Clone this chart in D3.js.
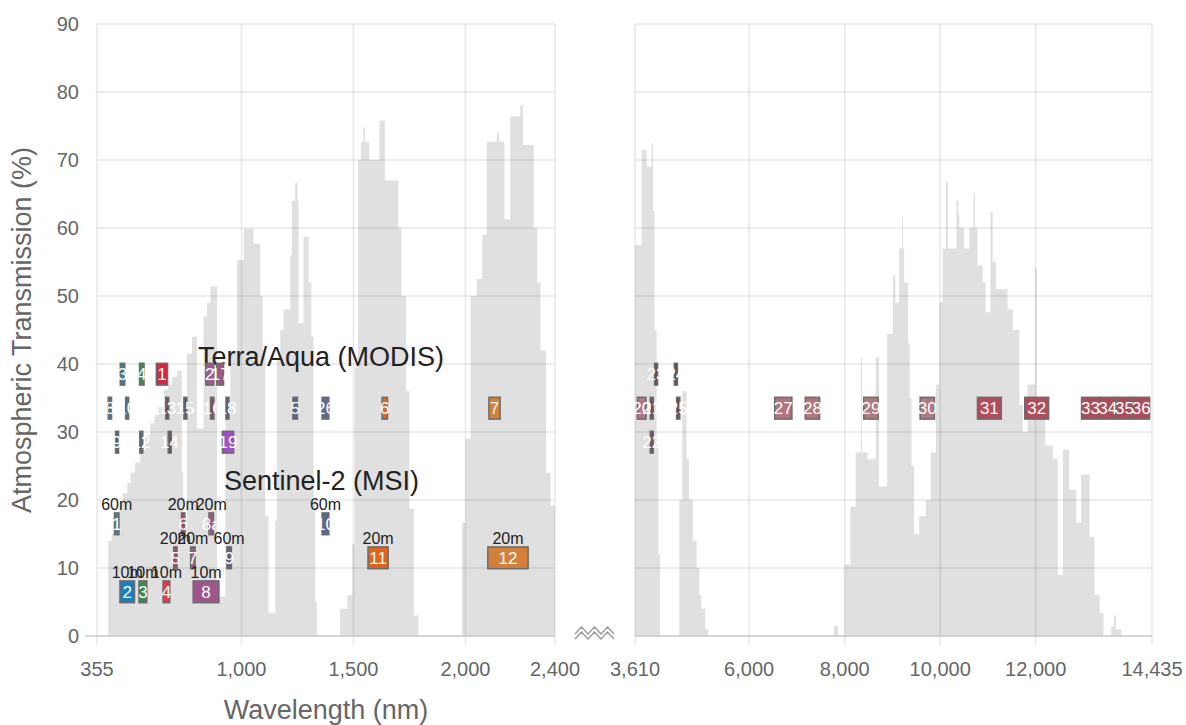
<!DOCTYPE html>
<html><head><meta charset="utf-8">
<script src="https://cdn.jsdelivr.net/npm/d3@7/dist/d3.min.js"></script>
<style>
body{margin:0;background:#fff;}
svg{display:block;font-family:"Liberation Sans",Arial,sans-serif;}
</style></head>
<body><svg id="c" width="1186" height="725"></svg>
<script>
// ---------- DATA ----------
const yTicks = [0,10,20,30,40,50,60,70,80,90];
const xTicksLeft = [355,1000,1500,2000,2400];
const xTicksRight = [3610,6000,8000,10000,12000,14435];

// atmospheric transmission (step data: wavelength nm, %)
const transLeftWl  = [355,405,420,440,455,470,490,505,525,548,570,593,612,630,653,672,690,712,734,740,757,779,801,831,846,861,891,928,950,980,1010,1054,1084,1095,1106,1121,1151,1158,1173,1188,1218,1225,1240,1250,1255,1277,1300,1312,1322,1330,1337,1440,1473,1495,1505,1520,1533,1545,1552,1571,1616,1640,1700,1715,1735,1750,1770,1790,1985,2000,2023,2050,2075,2095,2140,2150,2174,2200,2245,2257,2305,2320,2335,2360,2380,2400];
const transLeftVal = [0,14,15,17.5,19.5,21,22.5,24,25.5,27.4,29.5,31.3,32.5,33.7,36.2,37,38.1,39,24,16,41.5,44,30.5,47,49,51.4,5.8,32.2,42,55.3,59.9,57.7,50,42,17.6,3.4,17,40.6,45,48,56,64,66.6,64,46,58.7,52,44,20,5,0,4,6,13.5,39.5,70,72.7,74.8,72.7,70,75.8,67,60,50,36,18.7,3,0,16.6,29,50,52.5,59,72.7,74,72.7,61.3,76.4,78,72.2,60,52,42,24,19.2,19.2];
const transRightWl  = [3610,3750,3855,3959,3990,4020,4064,4100,4133,4537,4600,4690,4740,4820,4900,4960,5000,5080,5143,7780,7860,8000,8120,8230,8340,8360,8480,8650,8720,8890,9010,9060,9140,9200,9220,9245,9330,9360,9400,9455,9560,9700,9800,9910,9980,10050,10120,10160,10340,10380,10400,10500,10610,10700,10730,10780,10890,10950,11050,11100,11170,11410,11520,11660,11730,11830,11990,12020,12200,12360,12460,12570,12700,12850,12950,13130,13230,13340,13420,13580,13640,13680,13790,14435];
const transRightVal = [57.5,71.5,69,72.5,62.5,45,28,12,0,20,36,26,20,14,10,6,4,1,0,1.5,0,10.5,19,27,41,27,26,41,22,44.4,53,49,57,61.6,57,52,43,35,25,15,17.6,20,27,37,49,57,66.8,57,64,62,60,57,60,65,60,54.5,52,47.6,62.4,55,51,48,45,34,30,37,54,32,28,26,9,27.4,21.5,16.6,23.7,14.6,6,3.4,0,1.4,3,1,0,0];

// Terra/Aqua MODIS bands
const modisNames = ["1","2","3","4","17","23","24","8","10","13","15","16","18","5","26","6","7","20","21","25","27","28","29","30","31","32","33","34","35","36","9","12","14","19","22"];
const modisStart = [620,841,459,545,890,4020,4433,405,483,662,743,862,931,1230,1360,1628,2105,3660,3929,4482,6535,7175,8400,9580,10780,11770,12960,13335,13685,14035,438,546,673,915,3929];
const modisEnd   = [670,876,479,565,920,4080,4498,420,493,672,753,877,941,1250,1390,1652,2155,3840,3989,4549,6895,7475,8700,9880,11280,12270,13335,13685,14035,14385,448,556,683,965,3989];
const modisTrack = [38.5,38.5,38.5,38.5,38.5,38.5,38.5,33.5,33.5,33.5,33.5,33.5,33.5,33.5,33.5,33.5,33.5,33.5,33.5,33.5,33.5,33.5,33.5,33.5,33.5,33.5,33.5,33.5,33.5,33.5,28.5,28.5,28.5,28.5,28.5];
const modisColors = ["#d7263d","#a4578f","#2f7fa8","#3d8b57","#9a5a85","#6a4a50","#6a4a50","#4a78a8","#3f7d96","#7a4b5c","#744a5c","#8a4a6e","#5e5a78","#56698f","#5a6b96","#e0661c","#d4813b","#b07585","#7a4a55","#6a4a50","#b3757b","#b3757b","#b07a80","#b07a80","#b34b5a","#b34b5a","#aa4d5c","#aa4d5c","#aa4d5c","#aa4d5c","#4c6b8a","#56706a","#7a4b5c","#9b50c8","#7a4a55"];

// Sentinel-2 MSI bands
const msiNames = ["1","6","8a","10","5","7","9","11","12","2","3","4","8"];
const msiCenter = [443,740,865,1375,705,783,945,1610,2190,490,560,665,842];
const msiWidth  = [20,15,20,30,15,20,20,90,180,65,35,30,115];
const msiRes    = ["60m","20m","20m","60m","20m","20m","60m","20m","20m","10m","10m","10m","10m"];
const msiTrack  = [16.5,16.5,16.5,16.5,11.5,11.5,11.5,11.5,11.5,6.5,6.5,6.5,6.5];
const msiColors = ["#4d7fa8","#c23a62","#9a5a88","#56689a","#c8385a","#a05a88","#6a5e7c","#e0651a","#d4803c","#1a7fc1","#3a8a50","#e0394c","#a0568c"];

// ---------- CHART ----------
const svg = d3.select("#c");
const xL = d3.scaleLinear().domain([355,2400]).range([97,555]);
const xR = d3.scaleLinear().domain([3610,14435]).range([635,1152]);
const y  = d3.scaleLinear().domain([0,90]).range([636,24]);
const boxH = 3.2; // in % units

const defs = svg.append("defs");
[["clipL",xL],["clipR",xR]].forEach(([id,s])=>{
  defs.append("clipPath").attr("id",id).append("rect")
   .attr("x",s.range()[0]).attr("y",y(90)).attr("width",s.range()[1]-s.range()[0]).attr("height",y(0)-y(90));
});

function panel(xs, wl, val, clip, ticks){
  const g = svg.append("g");
  const data = wl.map((w,i)=>({w, v: val[i]}));
  g.append("path").datum(data)
   .attr("clip-path",`url(#${clip})`)
   .attr("fill","#e0e0e0")
   .attr("d", d3.area().curve(d3.curveStepAfter).x(d=>xs(d.w)).y0(y(0)).y1(d=>y(d.v)));
  g.selectAll("line.h").data(yTicks).join("line")
   .attr("x1",xs.range()[0]).attr("x2",xs.range()[1])
   .attr("y1",d=>y(d)).attr("y2",d=>y(d))
   .attr("stroke","rgba(0,0,0,0.09)").attr("stroke-width",1.5);
  g.selectAll("line.v").data(ticks).join("line")
   .attr("x1",d=>xs(d)).attr("x2",d=>xs(d))
   .attr("y1",y(90)).attr("y2",y(0)+9)
   .attr("stroke","rgba(0,0,0,0.09)").attr("stroke-width",1.5);
  g.append("line").attr("x1",xs.range()[0]-(clip==="clipL"?12:0)).attr("x2",xs.range()[1])
   .attr("y1",y(0)).attr("y2",y(0)).attr("stroke","#ccc").attr("stroke-width",1.5);
  g.selectAll("text.xt").data(ticks).join("text")
   .attr("x",d=>xs(d)).attr("y",y(0)+40)
   .attr("text-anchor","middle").attr("fill","#666").attr("font-size",20)
   .text(d=>d3.format(",")(d));
  return g;
}
panel(xL, transLeftWl, transLeftVal, "clipL", xTicksLeft);
panel(xR, transRightWl, transRightVal, "clipR", xTicksRight);

svg.selectAll("text.yt").data(yTicks).join("text")
 .attr("x",79).attr("y",d=>y(d)).attr("dy","0.35em")
 .attr("text-anchor","end").attr("fill","#666").attr("font-size",20)
 .text(d=>d);

// break symbol
const zz = [0,1,2,3,4,5,6];
[0,5].forEach(off=>{
  svg.append("path")
   .attr("d", d3.line()(zz.map(i=>[575+i*6.5, (i%2? 627:634)+off])))
   .attr("fill","none").attr("stroke","#999").attr("stroke-width",1.3);
});

// axis titles
svg.append("text").attr("x",(xL.range()[0]+xL.range()[1])/2).attr("y",719)
 .attr("text-anchor","middle").attr("fill","#666").attr("font-size",27).text("Wavelength (nm)");
svg.append("text").attr("transform",`translate(31,${(y(0)+y(90))/2}) rotate(-90)`)
 .attr("text-anchor","middle").attr("fill","#666").attr("font-size",27).text("Atmospheric Transmission (%)");

// section titles
svg.append("text").attr("x",198).attr("y",366).attr("fill","#222").attr("font-size",27).text("Terra/Aqua (MODIS)");
svg.append("text").attr("x",224).attr("y",490).attr("fill","#222").attr("font-size",27).text("Sentinel-2 (MSI)");

// band boxes
function xsFor(w){ return w < 3000 ? xL : xR; }
const gB = svg.append("g");
modisNames.forEach((n,i)=>{
  const xs = xsFor(modisStart[i]);
  const x0 = xs(modisStart[i]), x1 = xs(modisEnd[i]);
  gB.append("rect").attr("x",x0).attr("y",y(modisTrack[i]+boxH/2))
    .attr("width",Math.max(x1-x0,3)).attr("height",y(0)-y(boxH))
    .attr("fill",modisColors[i]).attr("stroke","#6b6b6b").attr("stroke-width",1.5);
});
modisNames.forEach((n,i)=>{
  const xs = xsFor(modisStart[i]);
  gB.append("text").attr("x",(xs(modisStart[i])+xs(modisEnd[i]))/2).attr("y",y(modisTrack[i]))
    .attr("dy","0.36em").attr("text-anchor","middle").attr("fill","#fff").attr("font-size",17).text(n);
});
msiNames.forEach((n,i)=>{
  const xs = xsFor(msiCenter[i]);
  const x0 = xs(msiCenter[i]-msiWidth[i]/2), x1 = xs(msiCenter[i]+msiWidth[i]/2);
  gB.append("rect").attr("x",x0).attr("y",y(msiTrack[i]+boxH/2))
    .attr("width",Math.max(x1-x0,3)).attr("height",y(0)-y(boxH))
    .attr("fill",msiColors[i]).attr("stroke","#6b6b6b").attr("stroke-width",1.5);
});
msiNames.forEach((n,i)=>{
  const xs = xsFor(msiCenter[i]);
  gB.append("text").attr("x",xs(msiCenter[i])).attr("y",y(msiTrack[i]))
    .attr("dy","0.36em").attr("text-anchor","middle").attr("fill","#fff").attr("font-size",17).text(n);
  gB.append("text").attr("x",xs(msiCenter[i])).attr("y",y(msiTrack[i]+boxH/2)-3)
    .attr("text-anchor","middle").attr("fill","#222").attr("font-size",16).text(msiRes[i]);
});
</script></body></html>
